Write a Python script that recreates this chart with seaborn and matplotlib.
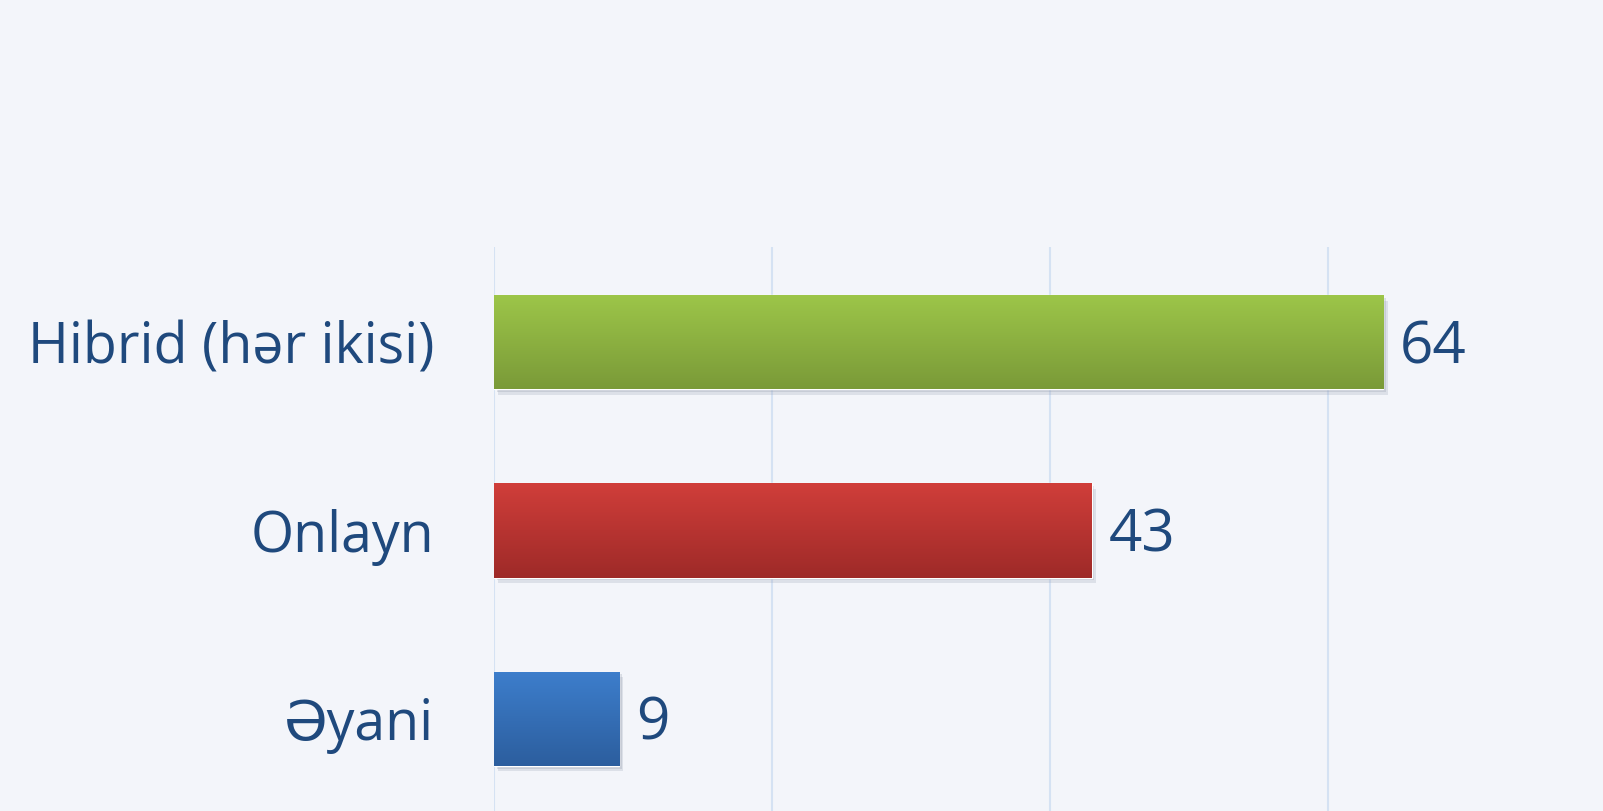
import numpy as np
import pandas as pd
import matplotlib
matplotlib.use("Agg")
import matplotlib.pyplot as plt
import matplotlib.patheffects as pe
from matplotlib.colors import LinearSegmentedColormap
import seaborn as sns

categories = ["Hibrid (hər ikisi)", "Onlayn", "Əyani"]
values = [64, 43, 9]
top_colors = ["#9DC649", "#D03E3A", "#3D7ECC"]
bottom_colors = ["#7A9A38", "#9E2A28", "#2C5E9E"]

bg = "#F3F5FA"
text_color = "#1F497D"

sns.set_theme(style="white")
plt.rcParams["font.family"] = ["Open Sans", "DejaVu Sans"]

df = pd.DataFrame({"category": categories, "value": values})

fig = plt.figure(figsize=(16.03, 8.11), dpi=100, facecolor=bg)
ax = fig.add_axes([0.3082, 0.0, 0.6918, 0.6954])
ax.set_facecolor(bg)

sns.barplot(data=df, x="value", y="category", hue="category",
            palette=top_colors, width=0.5, legend=False, ax=ax, zorder=3)

ax.set_xticks([0, 20, 40, 60])
ax.set_xticklabels([])
ax.grid(axis="x", color="#D5E2F3", linewidth=1.5)
ax.grid(axis="y", visible=False)
ax.set_axisbelow(True)
for s in ax.spines.values():
    s.set_visible(False)
ax.set_xlabel("")
ax.set_ylabel("")
ax.tick_params(axis="y", length=0, pad=43, labelsize=40, labelcolor=text_color)
ax.tick_params(axis="x", length=0)

# gradient fill + soft shadow on each bar
grad = np.linspace(0, 1, 256).reshape(-1, 1)
for patch, c_top, c_bot, v in zip(ax.patches, top_colors, bottom_colors, values):
    x0, y0 = patch.get_x(), patch.get_y()
    w, h = patch.get_width(), patch.get_height()
    patch.set_path_effects([
        pe.SimplePatchShadow(offset=(3, -4), shadow_rgbFace="#9AA2B4", alpha=0.25),
        pe.SimplePatchShadow(offset=(2, -2), shadow_rgbFace="#8A92A4", alpha=0.25),
        pe.Normal()])
    cmap = LinearSegmentedColormap.from_list("g", [c_top, c_bot])
    im = ax.imshow(grad, extent=(x0, x0 + w, y0 + h, y0), cmap=cmap,
                   aspect="auto", zorder=4, interpolation="bicubic")
    im.set_clip_path(patch)
    ax.text(x0 + w + 1.2, y0 + h / 2 + 0.03, f"{v}", va="center", ha="left",
            fontsize=42, color=text_color, zorder=5)

ax.set_xlim(0, 79.8)
ax.set_ylim(2.49, -0.505)

fig.savefig("out.png", dpi=100, facecolor=bg)
